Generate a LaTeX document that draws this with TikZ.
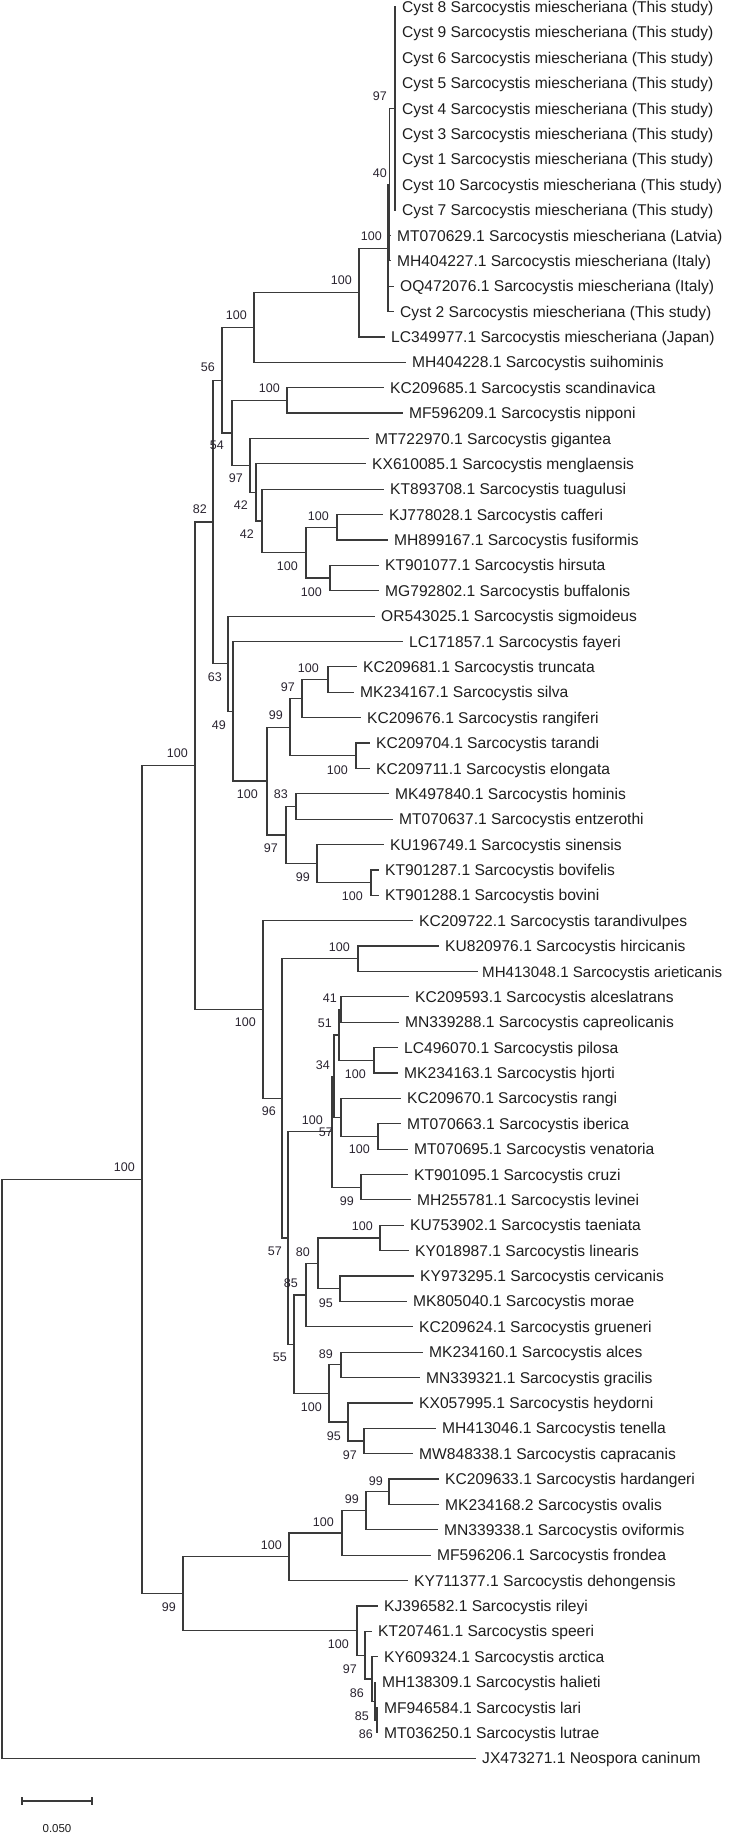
\documentclass[tikz,border=0pt]{standalone}
\usepackage{fontspec}
\setmainfont{Liberation Sans}
\definecolor{linecol}{HTML}{3A3A3A}
\definecolor{txtcol}{HTML}{1E1E1E}
\definecolor{bootcol}{HTML}{2A2430}
\newcommand{\leaffont}{\fontsize{15.6pt}{18pt}\selectfont}
\newcommand{\bootfont}{\fontsize{12.5pt}{14pt}\selectfont}
\newcommand{\scalefont}{\fontsize{11.5pt}{13pt}\selectfont}
\newcommand{\lf}[4]{\coordinate (#1) at (#2,#3); \node[leaflabel] (#1t) at ([xshift=7pt]#1) {#4};}
\newcommand{\bs}[4]{\node[bootlabel] (#1) at (#2,#3) {#4};}
\begin{document}
\begin{tikzpicture}[x=1pt,y=-1pt,
  branch/.style={line width=1.2pt,draw=linecol,line cap=rect},
  leaflabel/.style={font=\leaffont,text=txtcol,anchor=west,inner sep=0pt,text height=11.2pt,text depth=0pt},
  bootlabel/.style={font=\bootfont,text=bootcol,anchor=east,inner sep=0pt,text height=9pt,text depth=0pt}]
\useasboundingbox (0,0) rectangle (728,1833);
% ---------- leaves ----------
\lf{l1}{395}{7}{Cyst 8 Sarcocystis miescheriana (This study)}
\lf{l2}{395}{32.38}{Cyst 9 Sarcocystis miescheriana (This study)}
\lf{l3}{395}{57.76}{Cyst 6 Sarcocystis miescheriana (This study)}
\lf{l4}{395}{83.14}{Cyst 5 Sarcocystis miescheriana (This study)}
\lf{l5}{395}{108.52}{Cyst 4 Sarcocystis miescheriana (This study)}
\lf{l6}{395}{133.9}{Cyst 3 Sarcocystis miescheriana (This study)}
\lf{l7}{395}{159.28}{Cyst 1 Sarcocystis miescheriana (This study)}
\lf{l8}{395}{184.66}{Cyst 10 Sarcocystis miescheriana (This study)}
\lf{l9}{395}{210.04}{Cyst 7 Sarcocystis miescheriana (This study)}
\lf{l10}{390}{235.42}{MT070629.1 Sarcocystis miescheriana (Latvia)}
\lf{l11}{390}{260.8}{MH404227.1 Sarcocystis miescheriana (Italy)}
\lf{l12}{393}{286.18}{OQ472076.1 Sarcocystis miescheriana (Italy)}
\lf{l13}{393}{311.56}{Cyst 2 Sarcocystis miescheriana (This study)}
\lf{l14}{384}{336.94}{LC349977.1 Sarcocystis miescheriana (Japan)}
\lf{l15}{405}{362.32}{MH404228.1 Sarcocystis suihominis}
\lf{l16}{383}{387.7}{KC209685.1 Sarcocystis scandinavica}
\lf{l17}{402}{413.08}{MF596209.1 Sarcocystis nipponi}
\lf{l18}{368}{438.46}{MT722970.1 Sarcocystis gigantea}
\lf{l19}{365}{463.84}{KX610085.1 Sarcocystis menglaensis}
\lf{l20}{383}{489.22}{KT893708.1 Sarcocystis tuagulusi}
\lf{l21}{382}{514.6}{KJ778028.1 Sarcocystis cafferi}
\lf{l22}{387}{539.98}{MH899167.1 Sarcocystis fusiformis}
\lf{l23}{378}{565.36}{KT901077.1 Sarcocystis hirsuta}
\lf{l24}{378}{590.74}{MG792802.1 Sarcocystis buffalonis}
\lf{l25}{374}{616.12}{OR543025.1 Sarcocystis sigmoideus}
\lf{l26}{402}{641.5}{LC171857.1 Sarcocystis fayeri}
\lf{l27}{356}{666.88}{KC209681.1 Sarcocystis truncata}
\lf{l28}{353}{692.26}{MK234167.1 Sarcocystis silva}
\lf{l29}{360}{717.64}{KC209676.1 Sarcocystis rangiferi}
\lf{l30}{369}{743.02}{KC209704.1 Sarcocystis tarandi}
\lf{l31}{369}{768.4}{KC209711.1 Sarcocystis elongata}
\lf{l32}{388}{793.78}{MK497840.1 Sarcocystis hominis}
\lf{l33}{392}{819.16}{MT070637.1 Sarcocystis entzerothi}
\lf{l34}{383}{844.54}{KU196749.1 Sarcocystis sinensis}
\lf{l35}{378}{869.92}{KT901287.1 Sarcocystis bovifelis}
\lf{l36}{378}{895.3}{KT901288.1 Sarcocystis bovini}
\lf{l37}{412}{920.68}{KC209722.1 Sarcocystis tarandivulpes}
\lf{l38}{438}{946.06}{KU820976.1 Sarcocystis hircicanis}
\coordinate (l39) at (477,971.44);
\node[leaflabel,font=\fontsize{15.1pt}{18pt}\selectfont] (l39t) at ([xshift=5pt]l39) {MH413048.1 Sarcocystis arieticanis};
\lf{l40}{408}{996.82}{KC209593.1 Sarcocystis alceslatrans}
\lf{l41}{398}{1022.2}{MN339288.1 Sarcocystis capreolicanis}
\lf{l42}{397}{1047.58}{LC496070.1 Sarcocystis pilosa}
\lf{l43}{397}{1072.96}{MK234163.1 Sarcocystis hjorti}
\lf{l44}{400}{1098.34}{KC209670.1 Sarcocystis rangi}
\lf{l45}{400}{1123.72}{MT070663.1 Sarcocystis iberica}
\lf{l46}{407}{1149.1}{MT070695.1 Sarcocystis venatoria}
\lf{l47}{407}{1174.48}{KT901095.1 Sarcocystis cruzi}
\lf{l48}{410}{1199.86}{MH255781.1 Sarcocystis levinei}
\lf{l49}{403}{1225.24}{KU753902.1 Sarcocystis taeniata}
\lf{l50}{408}{1250.62}{KY018987.1 Sarcocystis linearis}
\lf{l51}{413}{1276}{KY973295.1 Sarcocystis cervicanis}
\lf{l52}{406}{1301.38}{MK805040.1 Sarcocystis morae}
\lf{l53}{412}{1326.76}{KC209624.1 Sarcocystis grueneri}
\lf{l54}{422}{1352.14}{MK234160.1 Sarcocystis alces}
\lf{l55}{419}{1377.52}{MN339321.1 Sarcocystis gracilis}
\lf{l56}{412}{1402.9}{KX057995.1 Sarcocystis heydorni}
\lf{l57}{435}{1428.28}{MH413046.1 Sarcocystis tenella}
\lf{l58}{412}{1453.66}{MW848338.1 Sarcocystis capracanis}
\lf{l59}{438}{1479.04}{KC209633.1 Sarcocystis hardangeri}
\lf{l60}{438}{1504.42}{MK234168.2 Sarcocystis ovalis}
\lf{l61}{437}{1529.8}{MN339338.1 Sarcocystis oviformis}
\lf{l62}{430}{1555.18}{MF596206.1 Sarcocystis frondea}
\lf{l63}{407}{1580.56}{KY711377.1 Sarcocystis dehongensis}
\lf{l64}{377}{1605.94}{KJ396582.1 Sarcocystis rileyi}
\lf{l65}{371}{1631.32}{KT207461.1 Sarcocystis speeri}
\lf{l66}{377}{1656.7}{KY609324.1 Sarcocystis arctica}
\lf{l67}{375}{1682.08}{MH138309.1 Sarcocystis halieti}
\lf{l68}{377}{1707.46}{MF946584.1 Sarcocystis lari}
\lf{l69}{377}{1732.84}{MT036250.1 Sarcocystis lutrae}
\lf{l70}{475}{1758.22}{JX473271.1 Neospora caninum}
% ---------- internal nodes ----------
\coordinate (root) at (2,1468.96);
\coordinate (BA) at (142,1179.69);
\coordinate (Z) at (195,765.73);
\coordinate (N) at (213,521.94);
\coordinate (F) at (222,380.17);
\coordinate (E) at (254,327.43);
\coordinate (D) at (359,292.53);
\coordinate (A) at (388,248.11);
\coordinate (B) at (389.5,184.66);
\coordinate (C97) at (395,108.52);
\coordinate (G) at (232,432.91);
\coordinate (Sc) at (287,400.39);
\coordinate (H) at (250,465.43);
\coordinate (I) at (256,492.4);
\coordinate (J) at (262,520.95);
\coordinate (K) at (306,552.67);
\coordinate (L) at (337,527.29);
\coordinate (M) at (330,578.05);
\coordinate (O) at (228,663.71);
\coordinate (P) at (233,711.3);
\coordinate (Q) at (267,781.09);
\coordinate (R) at (290,727.16);
\coordinate (T) at (302,698.6);
\coordinate (V) at (328,679.57);
\coordinate (U) at (356,755.71);
\coordinate (S) at (286,835.02);
\coordinate (W) at (296,806.47);
\coordinate (X) at (317,863.58);
\coordinate (Y) at (371,882.61);
\coordinate (AA) at (263,1009.52);
\coordinate (AB) at (282,1098.35);
\coordinate (AD) at (358,958.75);
\coordinate (AC) at (288,1237.94);
\coordinate (AE) at (332,1131.65);
\coordinate (AG) at (334,1076.13);
\coordinate (AI) at (339,1034.89);
\coordinate (AK) at (341,1009.51);
\coordinate (AL) at (374,1060.27);
\coordinate (AJ) at (341,1117.38);
\coordinate (AM) at (378,1136.41);
\coordinate (AH) at (361,1187.17);
\coordinate (AF) at (294,1344.22);
\coordinate (AN) at (306,1295.04);
\coordinate (AP) at (318,1263.31);
\coordinate (AQ) at (380,1237.93);
\coordinate (AR) at (340,1288.69);
\coordinate (AO) at (329,1393.39);
\coordinate (AS) at (341,1364.83);
\coordinate (AT) at (348,1421.94);
\coordinate (AU) at (364,1440.97);
\coordinate (BB) at (183,1593.65);
\coordinate (BC) at (289,1556.77);
\coordinate (BE) at (342,1532.98);
\coordinate (BF) at (366,1510.77);
\coordinate (BG) at (389,1491.73);
\coordinate (BD) at (357,1630.53);
\coordinate (BH) at (365,1655.12);
\coordinate (BI) at (372,1678.91);
\coordinate (BJ) at (375,1701.12);
\coordinate (BK) at (377,1720.15);
% ---------- branches ----------
\foreach \p/\c in {root/BA,root/l70,BA/Z,BA/BB,Z/N,Z/AA,N/F,N/O,F/E,F/G,E/D,E/l15,D/A,D/l14,
  A/B,A/l12,A/l13,B/C97,B/l10,B/l11,C97/l1,C97/l2,C97/l3,C97/l4,C97/l5,C97/l6,C97/l7,C97/l8,C97/l9,
  G/Sc,G/H,Sc/l16,Sc/l17,H/l18,H/I,I/l19,I/J,J/l20,J/K,K/L,K/M,L/l21,L/l22,M/l23,M/l24,
  O/l25,O/P,P/l26,P/Q,Q/R,Q/S,R/T,R/U,T/V,T/l29,V/l27,V/l28,U/l30,U/l31,
  S/W,S/X,W/l32,W/l33,X/l34,X/Y,Y/l35,Y/l36,
  AA/l37,AA/AB,AB/AD,AB/AC,AD/l38,AD/l39,AC/AE,AC/AF,AE/AG,AE/AH,AG/AI,AG/AJ,
  AI/AK,AI/AL,AK/l40,AK/l41,AL/l42,AL/l43,AJ/l44,AJ/AM,AM/l45,AM/l46,AH/l47,AH/l48,
  AF/AN,AF/AO,AN/AP,AN/l53,AP/AQ,AP/AR,AQ/l49,AQ/l50,AR/l51,AR/l52,
  AO/AS,AO/AT,AS/l54,AS/l55,AT/l56,AT/AU,AU/l57,AU/l58,
  BB/BC,BB/BD,BC/BE,BC/l63,BE/BF,BE/l62,BF/BG,BF/l61,BG/l59,BG/l60,
  BD/l64,BD/BH,BH/l65,BH/BI,BI/l66,BI/BJ,BJ/l67,BJ/BK,BK/l68,BK/l69}
  {\draw[branch] (\p) |- (\c);}
% ---------- bootstrap values ----------
\bs{bC97}{387}{96}{97}
\bs{bB}{387}{173}{40}
\bs{bA}{382}{236}{100}
\bs{bD}{352}{280}{100}
\bs{bE}{247}{315}{100}
\bs{bF}{215}{367}{56}
\bs{bSc}{280}{388}{100}
\bs{bG}{224}{445}{54}
\bs{bH}{243}{478}{97}
\bs{bI}{248}{505}{42}
\bs{bJ}{254}{534}{42}
\bs{bL}{329}{516}{100}
\bs{bK}{298}{566}{100}
\bs{bM}{322}{592}{100}
\bs{bN}{207}{509}{82}
\bs{bO}{222}{677}{63}
\bs{bP}{226}{725}{49}
\bs{bV}{319}{668}{100}
\bs{bT}{295}{687}{97}
\bs{bR}{283}{715}{99}
\bs{bZ}{188}{753}{100}
\bs{bU}{348}{770}{100}
\bs{bQ}{258}{794}{100}
\bs{bW}{288}{794}{83}
\bs{bS}{278}{848}{97}
\bs{bX}{310}{877}{99}
\bs{bY}{363}{896}{100}
\bs{bAD}{350}{947}{100}
\bs{bAK}{337}{998}{41}
\bs{bAA}{256}{1022}{100}
\bs{bAI}{332}{1023}{51}
\bs{bAG}{330}{1065}{34}
\bs{bAL}{366}{1074}{100}
\bs{bAB}{276}{1111}{96}
\bs{bAE}{323}{1120}{100}
\bs{bAJ}{333}{1132}{57}
\bs{bAM}{370}{1149}{100}
\bs{bAH}{354}{1201}{99}
\bs{bBA}{135}{1167}{100}
\bs{bAQ}{373}{1226}{100}
\bs{bAC}{282}{1251}{57}
\bs{bAP}{310}{1252}{80}
\bs{bAN}{298}{1283}{85}
\bs{bAR}{333}{1303}{95}
\bs{bAS}{333}{1354}{89}
\bs{bAF}{287}{1357}{55}
\bs{bAO}{322}{1407}{100}
\bs{bAT}{341}{1436}{95}
\bs{bAU}{357}{1455}{97}
\bs{bBG}{383}{1481}{99}
\bs{bBF}{359}{1499}{99}
\bs{bBE}{334}{1522}{100}
\bs{bBC}{282}{1545}{100}
\bs{bBB}{176}{1607}{99}
\bs{bBD}{349}{1644}{100}
\bs{bBH}{357}{1669}{97}
\bs{bBI}{364}{1693}{86}
\bs{bBJ}{369}{1716}{85}
\bs{bBK}{373}{1734}{86}
% ---------- scale bar ----------
\coordinate (sbL) at (22,1801);
\coordinate (sbR) at (92,1801);
\draw[branch,line cap=butt] (sbL) -- (sbR);
\draw[branch,line cap=butt] ([yshift=4pt]sbL) -- ([yshift=-4pt]sbL);
\draw[branch,line cap=butt] ([yshift=4pt]sbR) -- ([yshift=-4pt]sbR);
\node[font=\scalefont,text=txtcol,inner sep=0pt,text height=8.2pt,text depth=0pt] (sbt) at (57,1828) {0.050};
\end{tikzpicture}
\end{document}
